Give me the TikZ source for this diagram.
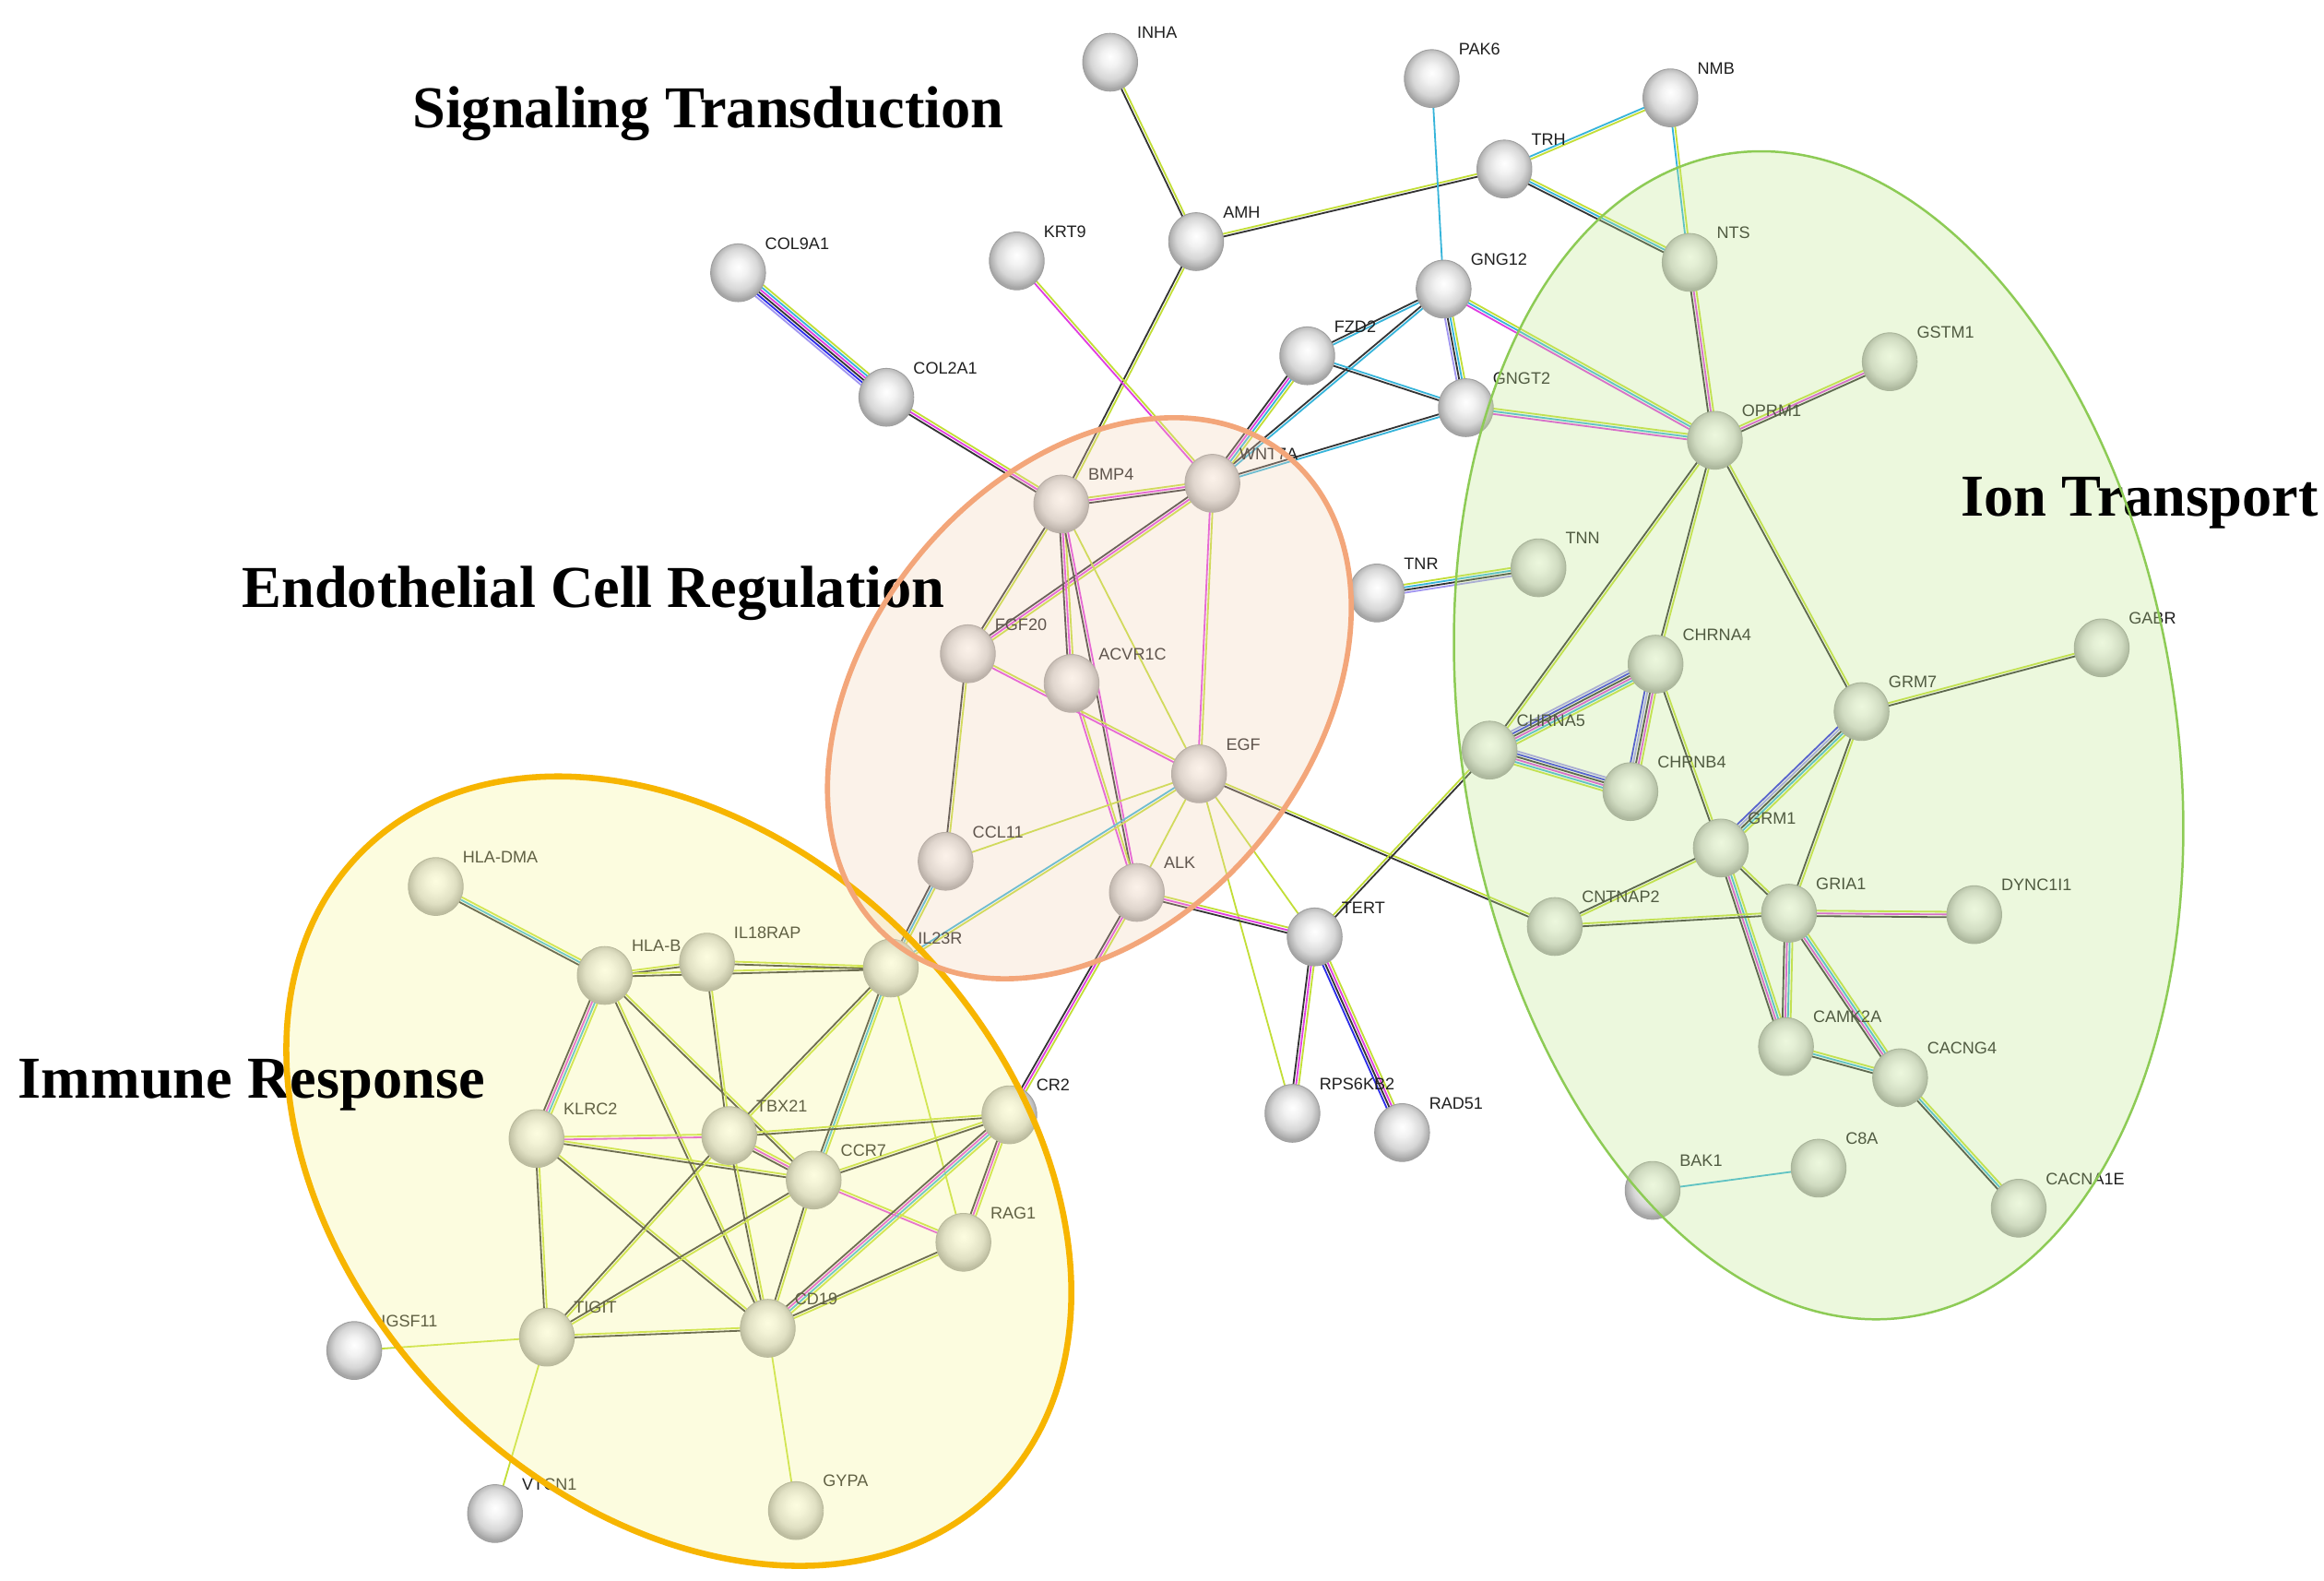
\documentclass[tikz,border=0pt]{standalone}
\usepackage{fontspec}
\setmainfont{Liberation Serif}
\newfontfamily\lblfont{Liberation Sans}
\usetikzlibrary{calc,shapes.geometric}
\pgfdeclarelayer{edges}
\pgfdeclarelayer{efill}
\pgfdeclarelayer{titles}
\pgfdeclarelayer{eline}
\pgfsetlayers{edges,main,efill,titles,eline}
\definecolor{cK}{HTML}{333333}
\definecolor{cY}{HTML}{C2DE36}
\definecolor{cM}{HTML}{E03DE0}
\definecolor{cC}{HTML}{36B4DA}
\definecolor{cB}{HTML}{2B2BE8}
\definecolor{cP}{HTML}{A095F0}
\definecolor{fGreen}{RGB}{195,232,145}
\definecolor{fYellow}{RGB}{248,248,152}
\definecolor{fOrange}{RGB}{245,212,185}
\definecolor{lGreen}{HTML}{8DCB55}
\definecolor{lYellow}{HTML}{F7B500}
\definecolor{lOrange}{HTML}{F3A67A}
\pgfdeclareradialshading{sphere}{\pgfpoint{0bp}{5bp}}{color(0bp)=(white);color(8bp)=(white!90!gray);color(18bp)=(gray!32);color(24bp)=(gray!62);color(25bp)=(gray!70);color(50bp)=(gray!70)}
\tikzset{
  gene/.style={ellipse, minimum width=9.25mm, minimum height=9.75mm, inner sep=0pt, draw=gray!75, line width=0.4pt, shade, shading=sphere},
  lbl/.style={anchor=base west, inner sep=0pt, font=\lblfont\fontsize{8}{9}\selectfont, text=black!88},
  title/.style={anchor=base west, inner sep=0pt, font=\bfseries\fontsize{28.5}{32}\selectfont},
  eK/.style={draw=cK, line width=0.8pt},
  eY/.style={draw=cY, line width=0.8pt},
  eM/.style={draw=cM, line width=0.8pt},
  eC/.style={draw=cC, line width=0.8pt},
  eB/.style={draw=cB, line width=0.8pt},
  eP/.style={draw=cP, line width=0.8pt}
}
\newcommand{\gn}[4]{\node[gene] (#1) at (#2,#3) {}; \node[lbl] (#1l) at ($(#1)+(18,-16)$) {#4};}
\newcommand{\ed}[3]{%
  \begin{pgfonlayer}{edges}%
  \foreach \cc [count=\ii] in {#3} {\xdef\edn{\ii}}%
  \foreach \cc [count=\ii] in {#3} {%
    \pgfmathsetmacro\off{(\ii-(\edn+1)/2)*1.3}%
    \draw[\cc] ($(#1)!\off pt!90:(#2)$) -- ($(#2)!\off pt!-90:(#1)$);%
  }%
  \end{pgfonlayer}%
}
\begin{document}
\begin{tikzpicture}[x=0.25mm, y=-0.25mm]
\begin{pgfonlayer}{edges}
\fill[white] (0,0) rectangle (1568,1066);
\end{pgfonlayer}
\useasboundingbox (0,0) rectangle (1568,1066);
% genes
\gn{INHA}{749}{42}{INHA}
\gn{PAK6}{966}{53}{PAK6}
\gn{NMB}{1127}{66}{NMB}
\gn{TRH}{1015}{114}{TRH}
\gn{AMH}{807}{163}{AMH}
\gn{NTS}{1140}{177}{NTS}
\gn{KRT9}{686}{176}{KRT9}
\gn{COL9A1}{498}{184}{COL9A1}
\gn{GNG12}{974}{195}{GNG12}
\gn{FZD2}{882}{240}{FZD2}
\gn{GSTM1}{1275}{244}{GSTM1}
\gn{COL2A1}{598}{268}{COL2A1}
\gn{GNGT2}{989}{275}{GNGT2}
\gn{OPRM1}{1157}{297}{OPRM1}
\gn{WNT}{818}{326}{WNT7A}
\gn{BMP4}{716}{340}{BMP4}
\gn{TNN}{1038}{383}{TNN}
\gn{TNR}{929}{400}{TNR}
\gn{GABR}{1418}{437}{GABR}
\gn{FGF20}{653}{441}{FGF20}
\gn{CHRNA4}{1117}{448}{CHRNA4}
\gn{ACVR1C}{723}{461}{ACVR1C}
\gn{GRM7}{1256}{480}{GRM7}
\gn{CHRNA5}{1005}{506}{CHRNA5}
\gn{EGF}{809}{522}{EGF}
\gn{CHRNB4}{1100}{534}{CHRNB4}
\gn{GRM1}{1161}{572}{GRM1}
\gn{CCL11}{638}{581}{CCL11}
\gn{HLADMA}{294}{598}{HLA-DMA}
\gn{ALK}{767}{602}{ALK}
\gn{GRIA1}{1207}{616}{GRIA1}
\gn{DYNC1I1}{1332}{617}{DYNC1I1}
\gn{CNTNAP2}{1049}{625}{CNTNAP2}
\gn{TERT}{887}{632}{TERT}
\gn{IL23R}{601}{653}{IL23R}
\gn{IL18RAP}{477}{649}{IL18RAP}
\gn{HLAB}{408}{658}{HLA-B}
\gn{CAMK2A}{1205}{706}{CAMK2A}
\gn{CACNG4}{1282}{727}{CACNG4}
\gn{CR2}{681}{752}{CR2}
\gn{RPS6KB2}{872}{751}{RPS6KB2}
\gn{TBX21}{492}{766}{TBX21}
\gn{KLRC2}{362}{768}{KLRC2}
\gn{RAD51}{946}{764}{RAD51}
\gn{C8A}{1227}{788}{C8A}
\gn{CCR7}{549}{796}{CCR7}
\gn{BAK1}{1115}{803}{BAK1}
\gn{CACNA1E}{1362}{815}{CACNA1E}
\gn{RAG1}{650}{838}{RAG1}
\gn{CD19}{518}{896}{CD19}
\gn{TIGIT}{369}{902}{TIGIT}
\gn{IGSF11}{239}{911}{IGSF11}
\gn{VTCN1}{334}{1021}{VTCN1}
\gn{GYPA}{537}{1019}{GYPA}
% edges
\ed{INHA}{AMH}{eK,eY}
\ed{AMH}{TRH}{eK,eY}
\ed{AMH}{BMP4}{eK,eY}
\ed{KRT9}{WNT}{eM,eY}
\ed{COL9A1}{COL2A1}{eP,eB,eK,eM,eC,eY}
\ed{COL2A1}{BMP4}{eK,eM,eY}
\ed{PAK6}{GNG12}{eC}
\ed{NMB}{TRH}{eC,eY}
\ed{NMB}{NTS}{eC,eY}
\ed{TRH}{NTS}{eK,eC,eY}
\ed{GNG12}{FZD2}{eK,eC}
\ed{GNG12}{WNT}{eK,eC}
\ed{FZD2}{GNGT2}{eK,eC}
\ed{FZD2}{WNT}{eK,eM,eC,eY}
\ed{GNG12}{GNGT2}{eP,eK,eC,eY}
\ed{GNGT2}{WNT}{eK,eC}
\ed{GNG12}{OPRM1}{eM,eC,eY}
\ed{GNGT2}{OPRM1}{eM,eC,eY}
\ed{NTS}{OPRM1}{eK,eM,eY}
\ed{OPRM1}{GSTM1}{eK,eM,eY}
\ed{BMP4}{WNT}{eK,eM,eY}
\ed{BMP4}{FGF20}{eK,eY}
\ed{WNT}{FGF20}{eK,eM,eY}
\ed{BMP4}{ACVR1C}{eK,eM,eY}
\ed{BMP4}{ALK}{eK,eM}
\ed{ACVR1C}{ALK}{eM,eY}
\ed{BMP4}{EGF}{eY}
\ed{WNT}{EGF}{eM,eY}
\ed{FGF20}{EGF}{eM,eY}
\ed{FGF20}{CCL11}{eK,eY}
\ed{CCL11}{EGF}{eY}
\ed{EGF}{IL23R}{eC,eY}
\ed{CCL11}{IL23R}{eK,eC,eY}
\ed{EGF}{ALK}{eY}
\ed{EGF}{TERT}{eY}
\ed{EGF}{RPS6KB2}{eY}
\ed{EGF}{CNTNAP2}{eK,eY}
\ed{ALK}{TERT}{eK,eM,eY}
\ed{ALK}{CR2}{eK,eM,eY}
\ed{TERT}{RPS6KB2}{eK,eM,eY}
\ed{TERT}{RAD51}{eB,eK,eM,eY}
\ed{TERT}{CHRNA5}{eK,eY}
\ed{TNR}{TNN}{eP,eK,eC,eY}
\ed{OPRM1}{CHRNA5}{eK,eY}
\ed{OPRM1}{CHRNA4}{eK,eY}
\ed{OPRM1}{GRM7}{eK,eY}
\ed{CHRNA4}{CHRNA5}{eP,eB,eK,eM,eC,eY}
\ed{CHRNA4}{CHRNB4}{eB,eP,eK,eM,eY}
\ed{CHRNA5}{CHRNB4}{eY,eC,eM,eK,eB,eP}
\ed{CHRNA4}{GRM1}{eK,eY}
\ed{GRM7}{GABR}{eK,eY}
\ed{GRM7}{GRM1}{eB,eP,eK,eC,eY}
\ed{GRM7}{GRIA1}{eK,eY}
\ed{GRM1}{CNTNAP2}{eK,eY}
\ed{GRM1}{GRIA1}{eK,eY}
\ed{GRM1}{CAMK2A}{eK,eM,eC,eY}
\ed{CNTNAP2}{GRIA1}{eK,eY}
\ed{GRIA1}{DYNC1I1}{eK,eM,eY}
\ed{GRIA1}{CAMK2A}{eK,eM,eC,eY}
\ed{GRIA1}{CACNG4}{eK,eM,eC,eY}
\ed{CAMK2A}{CACNG4}{eK,eC,eY}
\ed{CACNG4}{CACNA1E}{eK,eC,eY}
\ed{BAK1}{C8A}{eC}
\ed{HLADMA}{HLAB}{eK,eC,eY}
\ed{HLAB}{IL18RAP}{eK,eY}
\ed{HLAB}{IL23R}{eK,eY}
\ed{IL18RAP}{IL23R}{eK,eY}
\ed{HLAB}{KLRC2}{eK,eM,eC,eY}
\ed{HLAB}{CD19}{eK,eY}
\ed{HLAB}{CCR7}{eK,eY}
\ed{IL18RAP}{TBX21}{eK,eY}
\ed{IL23R}{TBX21}{eK,eY}
\ed{IL23R}{CCR7}{eK,eC,eY}
\ed{IL23R}{RAG1}{eY}
\ed{KLRC2}{TBX21}{eM,eY}
\ed{KLRC2}{CCR7}{eK,eY}
\ed{KLRC2}{TIGIT}{eK,eY}
\ed{KLRC2}{CD19}{eK,eY}
\ed{TBX21}{CR2}{eK,eY}
\ed{TBX21}{CCR7}{eK,eM,eY}
\ed{TBX21}{TIGIT}{eK,eY}
\ed{TBX21}{CD19}{eK,eY}
\ed{CCR7}{CR2}{eK,eY}
\ed{CCR7}{RAG1}{eM,eY}
\ed{CCR7}{CD19}{eK,eY}
\ed{CCR7}{TIGIT}{eK,eY}
\ed{CR2}{CD19}{eK,eM,eC,eY}
\ed{CR2}{RAG1}{eK,eM,eY}
\ed{RAG1}{CD19}{eK,eY}
\ed{TIGIT}{CD19}{eK,eY}
\ed{TIGIT}{IGSF11}{eY}
\ed{TIGIT}{VTCN1}{eY}
\ed{CD19}{GYPA}{eY}
% cluster ellipses
\begin{pgfonlayer}{efill}
\fill[fGreen, fill opacity=0.3, rotate around={9:(1227,496)}] (1227,496) ellipse (60.25mm and 99.25mm);
\fill[fYellow, fill opacity=0.3, rotate around={-45.5:(458,790)}] (458,790) ellipse (75.9mm and 55.25mm);
\fill[fOrange, fill opacity=0.3, rotate around={51:(735,471)}] (735,471) ellipse (52.75mm and 37.5mm);
\end{pgfonlayer}
\begin{pgfonlayer}{eline}
\draw[lGreen, line width=1.1pt, rotate around={9:(1227,496)}] (1227,496) ellipse (60.25mm and 99.25mm);
\draw[lYellow, line width=2.9pt, rotate around={-45.5:(458,790)}] (458,790) ellipse (75.9mm and 55.25mm);
\draw[lOrange, line width=2.5pt, rotate around={51:(735,471)}] (735,471) ellipse (52.75mm and 37.5mm);
\end{pgfonlayer}
% titles
\begin{pgfonlayer}{titles}
\node[title] (tSig) at (278,86) {Signaling Transduction};
\node[title] (tEnd) at (163,410) {Endothelial Cell Regulation};
\node[title] (tIon) at (1323,348) {Ion Transport};
\node[title] (tImm) at (12,741) {Immune Response};
\end{pgfonlayer}
\end{tikzpicture}
\end{document}
